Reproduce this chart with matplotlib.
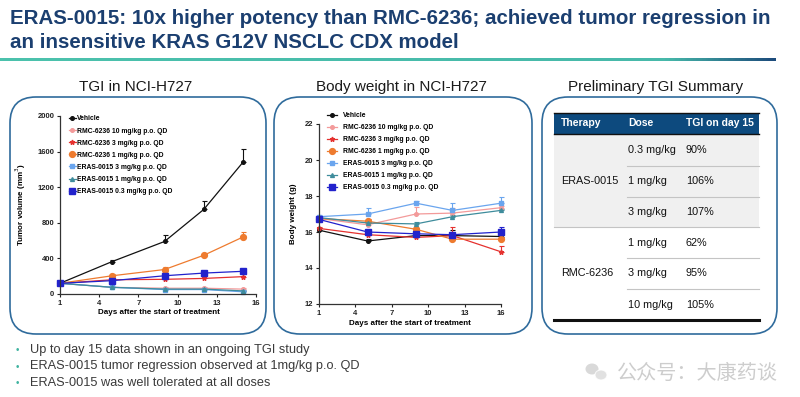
import matplotlib
matplotlib.use('Agg')
import matplotlib.pyplot as plt
from matplotlib.patches import FancyBboxPatch, Rectangle, Ellipse
from matplotlib.colors import LinearSegmentedColormap
from matplotlib.lines import Line2D
from matplotlib import font_manager
import numpy as np

# ---------------- data ----------------
series_labels = ["Vehicle", "RMC-6236 10 mg/kg p.o. QD", "RMC-6236 3 mg/kg p.o. QD",
                 "RMC-6236 1 mg/kg p.o. QD", "ERAS-0015 3 mg/kg p.o. QD",
                 "ERAS-0015 1 mg/kg p.o. QD", "ERAS-0015 0.3 mg/kg p.o. QD"]

tv_days = [1, 5, 9, 12, 15]
tv_vehicle = [120, 365, 590, 950, 1480]
tv_rmc10 = [120, 75, 65, 65, 55]
tv_rmc3 = [120, 160, 165, 175, 195]
tv_rmc1 = [120, 205, 275, 435, 640]
tv_eras3 = [120, 75, 50, 50, 25]
tv_eras1 = [120, 75, 55, 55, 35]
tv_eras03 = [120, 150, 205, 235, 255]
tv_vehicle_err = [0, 12, 70, 100, 150]
tv_rmc10_err = [0, 8, 10, 10, 10]
tv_rmc3_err = [0, 20, 30, 40, 30]
tv_rmc1_err = [0, 18, 25, 20, 55]
tv_eras3_err = [0, 8, 10, 8, 8]
tv_eras1_err = [0, 8, 10, 8, 8]
tv_eras03_err = [0, 15, 15, 20, 15]

bw_days = [1, 5, 9, 12, 16]
bw_vehicle = [16.1, 15.5, 15.8, 15.8, 15.75]
bw_rmc10 = [16.75, 16.4, 17.0, 17.05, 17.35]
bw_rmc3 = [16.2, 15.85, 15.7, 15.8, 14.9]
bw_rmc1 = [16.75, 16.6, 16.15, 15.6, 15.6]
bw_eras3 = [16.85, 17.0, 17.6, 17.2, 17.6]
bw_eras1 = [16.8, 16.5, 16.45, 16.85, 17.2]
bw_eras03 = [16.7, 16.0, 15.9, 15.85, 16.0]
bw_vehicle_err = [0.1, 0.1, 0.2, 0.3, 0.1]
bw_rmc10_err = [0.1, 0.3, 0.4, 0.3, 0.1]
bw_rmc3_err = [0.1, 0.1, 0.1, 0.5, 0.3]
bw_rmc1_err = [0.1, 0.1, 0.1, 0.1, 0.1]
bw_eras3_err = [0.1, 0.35, 0.1, 0.4, 0.35]
bw_eras1_err = [0.1, 0.1, 0.1, 0.1, 0.1]
bw_eras03_err = [0.1, 0.1, 0.1, 0.1, 0.3]

table_header = ["Therapy", "Dose", "TGI on day 15"]
table_therapy = ["ERAS-0015", "RMC-6236"]
table_dose = ["0.3 mg/kg", "1 mg/kg", "3 mg/kg", "1 mg/kg", "3 mg/kg", "10 mg/kg"]
table_tgi = ["90%", "106%", "107%", "62%", "95%", "105%"]

title_lines = ["ERAS-0015: 10x higher potency than RMC-6236; achieved tumor regression in",
               "an insensitive KRAS G12V NSCLC CDX model"]
panel_titles = ["TGI in NCI-H727", "Body weight in NCI-H727", "Preliminary TGI Summary"]
bullets = ["Up to day 15 data shown in an ongoing TGI study",
           "ERAS-0015 tumor regression observed at 1mg/kg p.o. QD",
           "ERAS-0015 was well tolerated at all doses"]
watermark = "公众号：大康药谈"

# ---------------- styles ----------------
avail = set(f.name for f in font_manager.fontManager.ttflist)
SANS = 'Liberation Sans' if 'Liberation Sans' in avail else 'DejaVu Sans'
NARROW = 'Liberation Sans Narrow' if 'Liberation Sans Narrow' in avail else SANS
plt.rcParams['font.family'] = [SANS, 'DejaVu Sans']

styles = [
    dict(color='#111111', marker='o', ms=2.6),
    dict(color='#F39A9A', marker='o', ms=2.6),
    dict(color='#E5312F', marker='*', ms=3.5),
    dict(color='#EE7B2F', marker='o', ms=4.2),
    dict(color='#6AA5EE', marker='s', ms=2.8),
    dict(color='#3E8C9C', marker='^', ms=2.8),
    dict(color='#2222CC', marker='s', ms=4.2),
]

W, H = 800, 397
fig = plt.figure(figsize=(8, 3.97), dpi=100)
bg = fig.add_axes([0, 0, 1, 1])
bg.set_xlim(0, W)
bg.set_ylim(H, 0)
bg.axis('off')
renderer = fig.canvas.get_renderer()


def fit(t, width_px):
    w = t.get_window_extent(renderer).width
    t.set_fontsize(t.get_fontsize() * width_px / w)


def add_ax(x0, x1, ytop, ybot):
    return fig.add_axes([x0 / W, 1 - ybot / H, (x1 - x0) / W, (ybot - ytop) / H])


# ---------------- header ----------------
navy = '#1B3F70'
t1 = bg.text(10, 19, title_lines[0], fontsize=15, fontweight='bold', color=navy,
             family=[NARROW, SANS], va='center', ha='left')
fit(t1, 762)
bg.text(10, 43, title_lines[1], fontsize=t1.get_fontsize(), fontweight='bold', color=navy,
        family=[NARROW, SANS], va='center', ha='left')

cmap = LinearSegmentedColormap.from_list('g', [(0, '#4CC2AD'), (0.86, '#47B9AA'), (1.0, '#1D4C7C')])
grad = np.linspace(0, 1, 400).reshape(1, -1)
bg.imshow(grad, extent=[0, 776, 61, 58], cmap=cmap, aspect='auto', zorder=1)
bg.set_xlim(0, W)
bg.set_ylim(H, 0)

# ---------------- boxes ----------------
box_color = '#2F6B9C'
for (x0, x1) in [(10, 266), (274, 532), (542, 777)]:
    bg.add_patch(FancyBboxPatch((x0, 97), x1 - x0, 237,
                                boxstyle='round,pad=0,rounding_size=26',
                                fc='none', ec=box_color, lw=1.2))
for cx, txt in zip([136, 401, 656], panel_titles):
    bg.text(cx, 87, txt, fontsize=11, color='#1a1a1a', ha='center', va='center')


def style_axes(ax, xt, yt, xlim, ylim):
    ax.set_xlim(*xlim)
    ax.set_ylim(*ylim)
    ax.set_xticks(xt)
    ax.set_yticks(yt)
    for s in ['top', 'right']:
        ax.spines[s].set_visible(False)
    for s in ['left', 'bottom']:
        ax.spines[s].set_color('#333333')
        ax.spines[s].set_linewidth(0.9)
    ax.tick_params(length=2.5, width=0.8, colors='#222222', labelsize=5.5, pad=1.5)
    for lab in ax.get_xticklabels() + ax.get_yticklabels():
        lab.set_fontweight('bold')
    ax.patch.set_alpha(0)


def draw_series(ax, days, vals_list, errs_list, lw=0.9):
    handles = []
    for vals, errs, st in zip(vals_list, errs_list, styles):
        eb = ax.errorbar(days, vals, yerr=[np.zeros(len(errs)), errs], color=st['color'],
                         marker=st['marker'], ms=st['ms'], lw=lw, capsize=1.8,
                         elinewidth=0.8, capthick=0.8, clip_on=False)
        for a in eb.lines:
            if a is None:
                continue
            try:
                a.set_clip_on(False)
            except AttributeError:
                for b in a:
                    b.set_clip_on(False)
        handles.append(Line2D([], [], color=st['color'], marker=st['marker'],
                              ms=st['ms'], lw=lw))
    return handles


# ---------------- tumor volume ----------------
ax1 = add_ax(60, 256, 116, 294)
h1 = draw_series(ax1, tv_days,
                 [tv_vehicle, tv_rmc10, tv_rmc3, tv_rmc1, tv_eras3, tv_eras1, tv_eras03],
                 [tv_vehicle_err, tv_rmc10_err, tv_rmc3_err, tv_rmc1_err, tv_eras3_err,
                  tv_eras1_err, tv_eras03_err])
style_axes(ax1, [1, 4, 7, 10, 13, 16], [0, 400, 800, 1200, 1600, 2000], (1, 16), (0, 2000))
ax1.set_xlabel('Days after the start of treatment', fontsize=5.8, fontweight='bold')
ax1.set_ylabel('Tumor volume (mm$^3$)', fontsize=5.8, fontweight='bold')
ax1.xaxis.set_label_coords(0.505, -0.085)
ax1.yaxis.set_label_coords(-0.163, 0.5)
fig.legend(h1, series_labels, loc='upper left', bbox_to_anchor=(66 / W, 1 - 112 / H),
           frameon=False, borderpad=0, handlelength=0.9, handletextpad=0.25,
           labelspacing=0.75, prop=dict(family=SANS, weight='bold', size=4.9))

# ---------------- body weight ----------------
ax2 = add_ax(319, 501, 124, 304)
h2 = draw_series(ax2, bw_days,
                 [bw_vehicle, bw_rmc10, bw_rmc3, bw_rmc1, bw_eras3, bw_eras1, bw_eras03],
                 [bw_vehicle_err, bw_rmc10_err, bw_rmc3_err, bw_rmc1_err, bw_eras3_err,
                  bw_eras1_err, bw_eras03_err])
style_axes(ax2, [1, 4, 7, 10, 13, 16], [12, 14, 16, 18, 20, 22], (1, 16), (12, 22))
ax2.set_xlabel('Days after the start of treatment', fontsize=5.8, fontweight='bold')
ax2.set_ylabel('Body weight (g)', fontsize=5.8, fontweight='bold')
ax2.xaxis.set_label_coords(0.5, -0.089)
ax2.yaxis.set_label_coords(-0.12, 0.5)
fig.legend(h2, series_labels, loc='upper left', bbox_to_anchor=(324 / W, 1 - 108.5 / H),
           frameon=False, borderpad=0, handlelength=1.4, handletextpad=0.9,
           labelspacing=0.74, prop=dict(family=SANS, weight='bold', size=4.9))

# ---------------- table ----------------
tx0, tx1 = 554, 759
bg.add_patch(Rectangle((tx0, 113), tx1 - tx0, 21, fc='#0D4A7E', ec='none'))
bg.plot([tx0, tx1], [113, 113], color='#111111', lw=1.0)
bg.plot([tx0, tx1], [134, 134], color='#111111', lw=1.0)
bg.add_patch(Rectangle((tx0, 134), tx1 - tx0, 93, fc='#F0F0F0', ec='none'))
col_x = [561, 628, 686]
for x, h in zip(col_x, table_header):
    bg.text(x, 123.5, h, fontsize=7.5, fontweight='bold', color='white', va='center')
row_edges = [134, 166, 197, 227, 258, 289, 320]
for i in range(6):
    yc = (row_edges[i] + row_edges[i + 1]) / 2
    bg.text(col_x[1], yc, table_dose[i], fontsize=7.8, color='#111111', va='center')
    bg.text(col_x[2], yc, table_tgi[i], fontsize=7.8, color='#111111', va='center')
for k, yb in enumerate(row_edges[1:-1]):
    xs = tx0 if yb == 227 else 627
    bg.plot([xs, tx1], [yb, yb], color='#C4C4C4', lw=0.8)
bg.text(col_x[0], 181.5, table_therapy[0], fontsize=7.8, color='#111111', va='center')
bg.text(col_x[0], 273.5, table_therapy[1], fontsize=7.8, color='#111111', va='center')
bg.plot([tx0, tx1], [320, 320], color='#111111', lw=2.2)

# ---------------- bullets ----------------
bullet_widths = [280, 330, 242]
for i, b in enumerate(bullets):
    y = 350 + i * 16.5
    bg.text(16, y, '•', fontsize=7, color='#3FB3A0', va='center', ha='left')
    tb = bg.text(30, y, b, fontsize=9.6, color='#3a3a3a', va='center', ha='left',
                 family=[NARROW, SANS])
    fit(tb, bullet_widths[i])

# ---------------- watermark ----------------
bg.add_patch(Ellipse((592, 369), 13, 11, fc='#D0D0D0', ec='none', alpha=0.8))
bg.add_patch(Ellipse((601, 375), 12, 10, fc='#DADADA', ec='white', lw=0.8, alpha=0.8))
bg.text(617, 373, watermark, fontsize=14.5, color='#C8C8C8', va='center', ha='left',
        family=['Noto Sans CJK SC', 'DejaVu Sans'], alpha=0.9)

fig.savefig('out.png', dpi=100)
